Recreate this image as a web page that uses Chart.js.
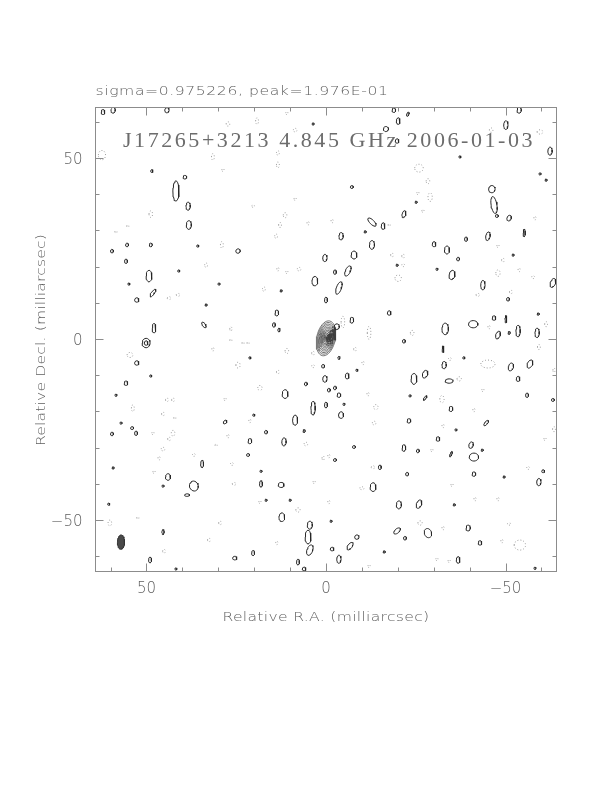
<!DOCTYPE html>
<html>
<head>
<meta charset="utf-8">
<script src="https://cdn.jsdelivr.net/npm/chart.js@4.4.1/dist/chart.umd.min.js"></script>
<style>
  html, body { margin: 0; padding: 0; background: #fff; }
  canvas { display: block; }
</style>
</head>
<body>
<canvas id="map" width="612" height="792"></canvas>
<script>
// Map limits (milliarcsec), RA increases to the left
const raRange = [-64.2, 64.2];
const decRange = [-64.2, 63.95];
const majorTicks = [-50, 0, 50];
const minorTicks = [-60, -40, -30, -20, -10, 10, 20, 30, 40, 60];
const tickLabels = ['\u221250', '0', '50'];

const titleText = 'sigma=0.975226, peak=1.976E-01';
const mapLabel = 'J17265+3213 4.845 GHz 2006-01-03';
const xTitle = 'Relative R.A. (milliarcsec)';
const yTitle = 'Relative Decl. (milliarcsec)';

// core component: centre and nested contour semi-axes [minor, major] in mas
const coreCentre = [0.0, 0.2, -12];
const coreRings = [
  [2.6, 4.9], [2.35, 4.45], [2.1, 4.0], [1.87, 3.55], [1.64, 3.1], [1.42, 2.68],
  [1.2, 2.25], [0.98, 1.85], [0.77, 1.45], [0.56, 1.05], [0.36, 0.68], [0.18, 0.35]
];

// restoring beam [ra, dec, minor, major, pa]
const beam = [57.1, -56.1, 1.0, 2.0, 0];

// positive contours [ra, dec, semi-minor, semi-major, pa]
const posBlobs = [
  [62.1, 62.7, 0.5, 0.7, 0], [59.3, 63.2, 0.6, 0.8, 0], [44.3, 63.2, 0.6, 0.7, 0],
  [48.5, 46.4, 0.3, 0.4, 0], [39.3, 44.7, 0.5, 0.5, 0], [41.8, 40.9, 0.85, 2.8, 0],
  [38.4, 36.7, 0.6, 1.1, 0], [38.2, 31.5, 0.7, 1.2, 0], [59.6, 24.3, 0.4, 0.5, 0],
  [55.4, 26.0, 0.4, 0.5, 0], [48.8, 26.0, 0.4, 0.5, 0], [35.7, 25.7, 0.3, 0.3, 0],
  [24.5, 24.3, 0.6, 0.6, 0], [55.7, 21.5, 0.4, 0.6, 0], [3.6, 59.4, 0.3, 0.3, 0],
  [0.3, 22.4, 0.6, 1.0, 0], [-18.9, 63.2, 0.5, 0.6, 0], [-22.8, 62.1, 0.3, 0.6, -20],
  [-53.8, 63.2, 0.6, 0.8, 0], [-20.1, 60.2, 0.5, 0.9, 0], [-16.7, 58.0, 0.7, 0.7, 0],
  [-19.8, 54.7, 0.5, 0.6, 0], [-50.1, 59.1, 0.6, 1.2, 0], [-62.4, 51.9, 0.6, 1.1, 0],
  [-37.3, 50.3, 0.3, 0.3, 0], [-7.2, 42.0, 0.4, 0.4, 0], [-59.6, 45.6, 0.3, 0.3, 0],
  [-61.3, 43.9, 0.3, 0.3, 0], [-46.2, 41.4, 0.9, 1.0, 0], [-46.8, 37.0, 0.8, 2.4, 10],
  [-47.6, 34.0, 0.4, 0.4, 0], [-51.0, 33.4, 0.6, 0.8, -20], [-25.1, 37.8, 0.3, 0.3, 0],
  [-21.7, 34.5, 0.5, 1.0, -15], [-12.8, 32.3, 0.6, 1.5, 45], [-15.9, 31.2, 0.5, 0.9, 0],
  [-4.2, 28.4, 0.6, 1.0, 0], [-10.9, 29.6, 0.3, 0.3, 0], [-12.8, 26.0, 0.7, 1.2, 0],
  [-7.8, 23.2, 0.8, 1.1, 0], [-30.1, 26.2, 0.5, 0.7, 0], [-33.7, 24.6, 0.7, 1.1, 0],
  [-39.0, 27.6, 0.4, 0.6, 0], [-45.1, 28.4, 0.6, 1.2, -10], [-55.2, 29.3, 0.3, 1.0, 0],
  [-36.8, 22.1, 0.4, 0.5, 0], [-52.1, 23.2, 0.3, 0.3, 0], [49.3, 17.4, 0.8, 1.6, 0],
  [41.0, 18.8, 0.3, 0.3, 0], [54.9, 15.2, 0.3, 0.3, 0], [48.2, 12.7, 0.4, 1.3, -35],
  [52.7, 10.8, 0.6, 0.6, 0], [3.1, 16.0, 0.8, 1.3, 0], [13.7, 7.2, 0.5, 0.8, 0],
  [14.5, 3.9, 0.4, 0.6, 0], [13.1, 2.5, 0.3, 0.5, 0], [34.0, 3.9, 0.4, 0.9, 35],
  [47.9, 3.0, 0.5, 1.3, 0], [50.1, -1.1, 1.1, 1.3, 0], [50.1, -1.1, 0.5, 0.6, 0],
  [52.7, -6.6, 0.6, 0.6, 0], [29.8, 15.2, 0.3, 0.3, 0], [12.5, 13.3, 0.3, 0.3, 0],
  [33.4, 9.4, 0.3, 0.3, 0], [48.8, -10.2, 0.3, 0.3, 0], [55.7, -12.2, 0.5, 0.6, 0],
  [58.5, -15.5, 0.3, 0.3, 0], [11.4, -15.2, 0.8, 1.2, 0], [5.6, -12.4, 0.4, 0.5, 0],
  [0.8, -7.5, 0.4, 0.5, 0], [0.3, -11.0, 0.6, 0.9, 0], [3.6, -19.1, 0.6, 1.9, 0],
  [0.0, -18.2, 0.4, 0.8, 0], [20.1, -21.0, 0.3, 0.3, 0], [21.2, -5.2, 0.3, 0.3, 0],
  [0.0, 10.8, 0.4, 0.8, 0], [-2.5, 18.5, 0.4, 0.6, 0], [-6.1, 18.8, 0.7, 1.5, -25],
  [-3.6, 14.1, 0.7, 1.8, -20], [-19.8, 20.4, 0.3, 0.3, 0], [-30.9, 19.3, 0.3, 0.3, 0],
  [-35.1, 17.7, 0.8, 1.3, -10], [-43.7, 14.9, 0.6, 1.3, 0], [-50.7, 11.0, 0.4, 0.5, 0],
  [-63.2, 15.5, 0.7, 1.3, -20], [-17.6, 7.2, 0.5, 0.6, 0], [-7.2, 5.2, 0.5, 0.8, 0],
  [-33.2, 2.8, 0.9, 1.6, 0], [-41.0, 4.1, 1.3, 1.0, 0], [-46.8, 5.8, 0.5, 0.6, 0],
  [-50.1, 5.5, 0.25, 1.0, 0], [-47.9, 1.1, 0.6, 1.1, -20], [-51.0, 1.7, 0.3, 0.4, 0],
  [-53.5, 2.2, 0.6, 1.6, 0], [-58.8, 1.7, 0.6, 1.3, 0], [-59.1, 6.9, 0.3, 0.3, 0],
  [-21.7, -0.6, 0.4, 0.5, 0], [-32.6, -2.8, 0.25, 0.9, 0], [-38.4, -5.2, 0.3, 0.3, 0],
  [-32.9, -7.2, 0.6, 1.0, 0], [-51.5, -7.7, 0.7, 1.1, -15], [-56.8, -6.9, 0.7, 1.2, -25],
  [-3.6, -5.2, 0.3, 0.4, 0], [-8.6, -8.6, 0.3, 0.3, 0], [-5.9, -10.2, 0.5, 0.8, 0],
  [-24.5, -11.0, 0.8, 1.5, 0], [-27.6, -9.7, 0.7, 1.1, -20], [-34.3, -11.6, 1.1, 0.6, 0],
  [-53.5, -11.0, 0.5, 0.7, 0], [-0.8, -14.1, 0.4, 0.5, 0], [-2.5, -13.5, 0.4, 0.5, 0],
  [-3.6, -15.5, 0.5, 0.6, 0], [-5.0, -18.0, 0.3, 0.3, 0], [-4.2, -21.0, 0.7, 0.9, 0],
  [-23.4, -15.7, 0.3, 0.3, 0], [-27.6, -16.3, 0.25, 0.8, -35], [-34.8, -19.3, 0.5, 0.7, 0],
  [-56.0, -15.5, 0.4, 0.6, 0], [-63.2, -16.8, 0.4, 0.4, 0], [57.1, -23.2, 0.3, 0.3, 0],
  [59.6, -26.2, 0.4, 0.5, 0], [54.0, -24.6, 0.4, 0.4, 0], [52.9, -26.0, 0.4, 0.6, 0],
  [28.1, -22.9, 0.4, 0.6, -40], [8.6, -22.4, 0.7, 1.4, 0], [16.7, -25.7, 0.4, 0.5, 0],
  [6.1, -25.4, 0.3, 0.4, 0], [21.2, -28.2, 0.5, 0.7, 0], [11.7, -28.4, 0.6, 1.1, 0],
  [21.7, -32.0, 0.4, 0.4, 0], [34.5, -34.5, 0.4, 1.0, 0], [59.3, -35.6, 0.3, 0.3, 0],
  [44.0, -38.1, 0.7, 0.9, 0], [36.8, -40.6, 1.2, 1.4, 20], [38.7, -43.1, 0.7, 0.35, 0],
  [45.4, -40.6, 0.3, 0.3, 0], [18.1, -36.5, 0.3, 0.3, 0], [18.1, -40.0, 0.4, 0.9, 0],
  [12.5, -40.3, 0.8, 0.7, 0], [16.7, -44.5, 0.3, 0.3, 0], [10.0, -44.5, 0.3, 0.3, 0],
  [60.5, -45.6, 0.3, 0.3, 0], [12.3, -49.2, 0.8, 1.2, 0], [4.5, -51.4, 0.7, 1.1, 0],
  [5.0, -54.7, 0.8, 1.9, 0], [4.5, -58.3, 0.8, 1.5, -20], [45.4, -53.3, 0.3, 0.7, 0],
  [49.0, -61.0, 0.4, 0.8, 0], [25.4, -60.5, 0.6, 0.5, 0], [20.3, -59.1, 0.4, 0.7, 0],
  [7.8, -61.6, 0.4, 0.8, 0], [6.1, -63.5, 0.5, 0.5, 0], [41.8, -63.5, 0.3, 0.3, 0],
  [-23.1, -22.6, 0.5, 0.6, 0], [-44.6, -23.2, 0.4, 0.9, -40], [-36.2, -25.1, 0.3, 0.3, 0],
  [-31.2, -27.6, 0.5, 0.6, 0], [-7.8, -29.8, 0.4, 0.4, 0], [-21.7, -30.1, 0.5, 0.9, 0],
  [-25.6, -30.9, 0.4, 0.5, 0], [-40.4, -29.3, 0.6, 0.9, -15], [-34.8, -31.8, 0.25, 0.8, -20],
  [-41.2, -32.6, 1.3, 1.1, 0], [-43.5, -30.7, 0.3, 0.3, 0], [-2.5, -33.4, 0.4, 0.4, 0],
  [-15.0, -35.4, 0.4, 0.6, 0], [-22.6, -37.3, 0.4, 0.5, 0], [-41.2, -37.3, 0.5, 0.6, 0],
  [-60.5, -36.5, 0.4, 0.4, 0], [-59.3, -39.5, 0.6, 1.0, 0], [-49.6, -38.1, 0.3, 0.3, 0],
  [-13.1, -40.9, 0.8, 1.2, 0], [-20.3, -45.8, 0.7, 1.1, 0], [-25.9, -45.6, 0.7, 1.2, -20],
  [-35.7, -45.8, 0.3, 0.3, 0], [-1.4, -50.3, 0.3, 0.3, 0], [-19.8, -53.0, 0.6, 1.1, -50],
  [-28.4, -53.6, 1.0, 1.3, 20], [-22.0, -55.0, 0.4, 0.5, 0], [-39.6, -52.2, 0.6, 0.8, 0],
  [-8.6, -54.7, 0.6, 0.6, 0], [-6.7, -57.2, 0.6, 1.2, -35], [-1.7, -58.0, 0.5, 0.5, 0],
  [-42.9, -56.3, 0.5, 0.6, 0], [-16.2, -58.8, 0.3, 0.3, 0], [-3.6, -60.8, 0.6, 1.1, 0],
  [-36.8, -61.0, 0.5, 0.9, 0], [-58.2, -63.3, 0.3, 0.3, 0], [-3.0, 3.4, 0.7, 0.8, 0]
];

// negative contours (dotted) [ra, dec, semi-minor, semi-major, pa]
const negBlobs = [
  [27.3, 59.4, 0.5, 0.6, 0], [19.2, 60.2, 0.4, 0.9, 0], [8.6, 57.7, 0.5, 0.5, 0],
  [62.4, 50.8, 1.0, 1.3, 0], [31.5, 50.3, 0.4, 0.9, 0], [28.7, 46.7, 0.3, 0.4, 0],
  [13.4, 51.4, 0.4, 0.6, 0], [13.4, 48.1, 0.4, 0.8, 0], [8.6, 38.7, 0.3, 0.4, 0],
  [20.3, 36.7, 0.4, 0.3, 0], [11.4, 34.2, 0.5, 0.7, 0], [12.8, 31.5, 0.4, 0.7, 0],
  [13.9, 28.4, 0.4, 0.6, 0], [5.0, 32.0, 0.3, 0.5, 0], [48.8, 34.5, 0.5, 0.9, 0],
  [55.2, 31.2, 0.3, 0.3, 0], [29.0, 26.0, 0.4, 0.9, 0], [58.5, 29.6, 0.3, 0.3, 0],
  [10.9, 62.4, 0.3, 0.4, 0], [-46.0, 57.7, 0.5, 0.6, 0], [-59.6, 57.2, 0.8, 0.6, 0],
  [-25.9, 47.2, 1.2, 1.1, 0], [-28.4, 43.6, 0.5, 0.7, 0], [-29.0, 39.2, 0.6, 1.2, 0],
  [-25.6, 40.3, 0.3, 0.4, 0], [-27.0, 35.4, 0.3, 0.4, 0], [-1.7, 32.6, 0.3, 0.5, 0],
  [-17.6, 31.5, 0.3, 0.3, 0], [-18.4, 23.2, 0.4, 0.5, 0], [-21.5, 22.9, 0.4, 0.5, 0],
  [-47.9, 25.7, 0.3, 0.4, 0], [-49.3, 21.8, 0.4, 0.5, 0], [-58.2, 33.4, 0.3, 0.5, 0],
  [33.4, 20.4, 0.4, 0.6, 0], [13.4, 19.3, 0.3, 0.5, 0], [10.9, 18.5, 0.3, 0.4, 0],
  [7.5, 19.3, 0.5, 0.5, 0], [17.3, 13.8, 0.4, 0.6, 0], [43.7, 11.3, 0.5, 0.4, 0],
  [41.2, 12.2, 0.5, 0.4, 0], [26.5, 2.8, 0.3, 0.6, 0], [26.5, -0.3, 0.3, 0.3, 0],
  [23.1, -1.1, 0.3, 0.3, 0], [21.7, -1.1, 0.3, 0.3, 0], [10.9, -3.3, 0.5, 0.7, 0],
  [31.5, -2.8, 0.3, 0.5, 0], [54.6, -4.4, 0.8, 0.7, 0], [24.5, -7.2, 0.6, 0.8, 0],
  [13.4, -9.1, 0.4, 0.5, 0], [3.6, -3.9, 0.4, 0.5, 0], [3.6, -7.5, 0.4, 0.4, 0],
  [18.4, -13.5, 0.6, 0.7, 0], [28.1, -16.6, 0.3, 0.4, 0], [44.3, -16.8, 0.4, 0.5, 0],
  [42.6, -16.8, 0.4, 0.5, 0], [53.8, -19.1, 0.4, 0.9, 0], [45.4, -20.7, 0.4, 0.5, 0],
  [-21.5, 20.4, 0.4, 0.4, 0], [-20.1, 16.8, 0.9, 0.9, 0], [-47.9, 18.2, 0.6, 0.9, 0],
  [-53.8, 19.1, 0.3, 0.5, 0], [-57.7, 17.1, 0.4, 0.4, 0], [-42.3, 12.2, 0.5, 0.4, 0],
  [-51.5, 13.0, 0.4, 0.5, 0], [-4.7, 4.7, 0.5, 1.6, 0], [-12.0, 1.7, 0.5, 1.8, 0],
  [-24.0, 1.7, 0.5, 0.7, 0], [-8.1, -2.8, 0.4, 0.5, 0], [-10.3, -6.6, 0.3, 0.5, 0],
  [-45.4, 3.3, 0.3, 0.5, 0], [-61.3, 4.1, 0.4, 0.7, 0], [-59.3, -2.2, 0.4, 0.7, 0],
  [-45.1, -6.9, 2.0, 1.1, 0], [-34.5, -5.5, 0.4, 0.4, 0], [-37.1, -11.0, 0.6, 0.6, 0],
  [-43.7, -14.1, 0.3, 0.4, 0], [-11.7, -15.2, 0.3, 0.5, 0], [-13.9, -18.8, 0.6, 0.7, 0],
  [-32.3, -16.6, 0.6, 1.0, 0], [-41.2, -19.6, 0.3, 0.5, 0], [-63.5, -8.6, 0.3, 0.6, 0],
  [42.1, -21.8, 0.3, 0.3, 0], [21.2, -22.6, 0.3, 0.5, 0], [42.6, -26.0, 0.5, 0.8, 0],
  [48.2, -26.0, 0.3, 0.4, 0], [43.7, -27.6, 0.4, 0.5, 0], [27.3, -26.8, 0.3, 0.5, 0],
  [30.6, -29.3, 0.3, 0.3, 0], [45.4, -30.4, 0.5, 0.5, 0], [46.5, -32.9, 0.3, 0.5, 0],
  [36.8, -32.0, 0.4, 0.4, 0], [26.2, -34.5, 0.4, 0.4, 0], [25.6, -40.0, 0.5, 0.4, 0],
  [47.9, -36.7, 0.3, 0.4, 0], [0.8, -32.9, 0.3, 0.6, 0], [5.6, -29.0, 0.5, 0.5, 0],
  [7.8, -47.2, 0.6, 0.6, 0], [18.4, -45.0, 0.3, 0.4, 0], [29.5, -50.8, 0.4, 0.5, 0],
  [32.6, -55.5, 0.4, 0.5, 0], [60.2, -50.8, 0.5, 0.8, 0], [52.4, -49.4, 0.3, 0.3, 0],
  [45.1, -58.6, 0.4, 0.5, 0], [13.7, -56.3, 0.3, 0.5, 0], [3.3, -39.5, 0.3, 0.4, 0],
  [-13.4, -23.2, 0.5, 0.5, 0], [-32.6, -24.0, 0.3, 0.5, 0], [-63.5, -24.9, 0.4, 0.7, 0],
  [-61.0, -27.6, 0.3, 0.4, 0], [-29.5, -30.7, 0.3, 0.4, 0], [-0.8, -32.3, 0.3, 0.5, 0],
  [-13.1, -35.4, 0.5, 0.4, 0], [-56.3, -35.6, 0.4, 0.4, 0], [-10.0, -41.2, 0.6, 0.4, 0],
  [-35.1, -40.3, 0.3, 0.4, 0], [-41.5, -44.2, 0.3, 0.5, 0], [-47.9, -44.2, 0.3, 0.5, 0],
  [-0.8, -45.0, 0.3, 0.5, 0], [-26.2, -50.8, 0.6, 0.6, 0], [-32.6, -52.2, 0.3, 0.5, 0],
  [-51.0, -51.1, 0.5, 0.3, 0], [-54.0, -56.9, 1.6, 1.4, 0], [-49.0, -55.8, 0.3, 0.5, 0],
  [-30.9, -60.8, 0.3, 0.4, 0], [-34.3, -61.3, 0.3, 0.4, 0], [-12.0, -62.7, 0.3, 0.4, 0]
];

// closed ellipse outline in map coordinates
function outline(c, n) {
  const [ra, dec, a, b, pa] = c;
  const t = (pa || 0) * Math.PI / 180;
  const pts = [];
  for (let i = 0; i <= n; i++) {
    const th = 2 * Math.PI * i / n;
    const u = a * Math.cos(th), v = b * Math.sin(th);
    pts.push({ x: ra + u * Math.cos(t) + v * Math.sin(t), y: dec - u * Math.sin(t) + v * Math.cos(t) });
  }
  return pts;
}

const POS = '#262626';
const NEG = '#9a9a9a';
const ds = [];

negBlobs.forEach(c => ds.push({
  data: outline(c, 20), borderColor: NEG, borderWidth: 1, borderDash: [1, 2]
}));
posBlobs.forEach(c => ds.push({
  data: outline(c, 20), borderColor: POS, borderWidth: 1
}));
coreRings.forEach(r => ds.push({
  data: outline([coreCentre[0], coreCentre[1], r[0], r[1], coreCentre[2]], 40),
  borderColor: '#3a3a3a', borderWidth: 0.7
}));
ds.push({
  data: outline(beam, 30), borderColor: '#333', borderWidth: 1,
  backgroundColor: '#4a4a4a', fill: 'shape'
});

// stretch a string over a given width: widen glyphs a little, then space them
function fitText(ctx, str, x, y, w, align, maxScale) {
  ctx.save();
  ctx.translate(x + (align === 'center' ? -w / 2 : 0), y);
  ctx.textAlign = 'left';
  const m = ctx.measureText(str).width;
  const s = Math.min(maxScale || 1.2, w / m);
  ctx.scale(s, 1);
  if ('letterSpacing' in ctx) ctx.letterSpacing = Math.max(0, (w / s - m) / str.length) + 'px';
  ctx.fillText(str, 0, 0);
  ctx.restore();
}

const framePlugin = {
  id: 'frame',
  afterDatasetsDraw(chart) {
    const { ctx, chartArea: a, scales: { x, y } } = chart;
    ctx.save();
    ctx.strokeStyle = '#8c8c8c';
    ctx.lineWidth = 1;
    ctx.strokeRect(a.left, a.top, a.right - a.left, a.bottom - a.top);
    ctx.beginPath();
    const tick = (v, len) => {
      const px = Math.round(x.getPixelForValue(v)) + 0.5;
      const py = Math.round(y.getPixelForValue(v)) + 0.5;
      ctx.moveTo(px, a.bottom); ctx.lineTo(px, a.bottom - len);
      ctx.moveTo(px, a.top); ctx.lineTo(px, a.top + len);
      ctx.moveTo(a.left, py); ctx.lineTo(a.left + len, py);
      ctx.moveTo(a.right, py); ctx.lineTo(a.right - len, py);
    };
    majorTicks.forEach(v => tick(v, 8));
    minorTicks.forEach(v => tick(v, 4));
    ctx.stroke();

    ctx.fillStyle = '#5e5e5e';
    ctx.textBaseline = 'alphabetic';
    ctx.font = '300 15px "DejaVu Sans", sans-serif';
    majorTicks.forEach((v, i) => {
      ctx.textAlign = 'center';
      ctx.fillText(tickLabels[i], x.getPixelForValue(v), a.bottom + 21.5);
      ctx.textAlign = 'right';
      ctx.fillText(tickLabels[i], a.left - 13, y.getPixelForValue(v) + 5.5);
    });

    ctx.font = '300 13px "DejaVu Sans", sans-serif';
    fitText(ctx, titleText, a.left, 95, 293, 'left');

    ctx.font = '300 13px "DejaVu Sans", sans-serif';
    fitText(ctx, xTitle, (a.left + a.right) / 2, 621, 207, 'center');
    ctx.save();
    ctx.translate(45, 340);
    ctx.rotate(-Math.PI / 2);
    fitText(ctx, yTitle, 0, 0, 212, 'center');
    ctx.restore();

    ctx.fillStyle = '#6c6c6c';
    ctx.font = '22px "Liberation Serif", serif';
    fitText(ctx, mapLabel, 123, 147, 412, 'left', 1.0);
    ctx.restore();
  }
};

new Chart(document.getElementById('map'), {
  type: 'scatter',
  data: { datasets: ds },
  plugins: [framePlugin],
  options: {
    responsive: false,
    animation: false,
    events: [],
    layout: { padding: { left: 95.5, right: 55.5, top: 107.5, bottom: 220.5 } },
    elements: { point: { radius: 0 }, line: { tension: 0 } },
    datasets: { scatter: { showLine: true, fill: false } },
    plugins: { legend: { display: false }, tooltip: { enabled: false } },
    scales: {
      x: { type: 'linear', min: raRange[0], max: raRange[1], reverse: true, display: false },
      y: { type: 'linear', min: decRange[0], max: decRange[1], display: false }
    }
  }
});
</script>
</body>
</html>
